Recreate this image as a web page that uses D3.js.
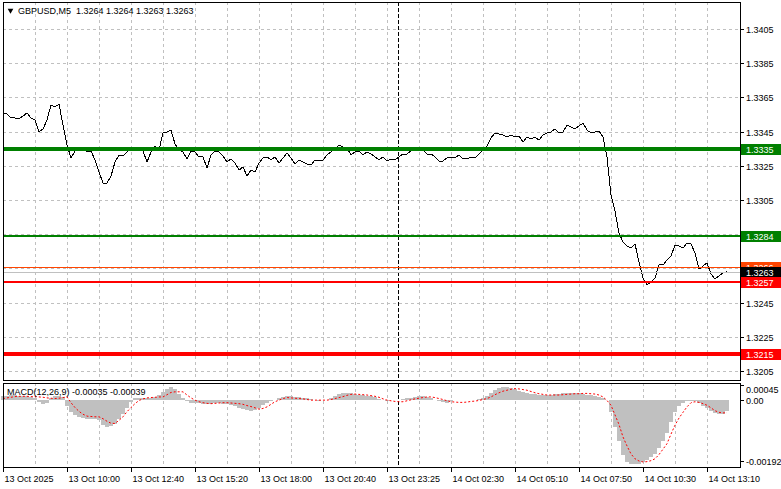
<!DOCTYPE html>
<html lang="en">
<head>
<meta charset="utf-8">
<title>GBPUSD,M5</title>
<script src="https://cdn.jsdelivr.net/npm/d3@7/dist/d3.min.js"></script>
<style>
  body { margin: 0; background: #fff; overflow: hidden; }
  svg { display: block; }
  text { font-family: "Liberation Sans", Arial, sans-serif; font-size: 9px; fill: #000; white-space: pre; }
</style>
</head>
<body>
<script>
// one sample every 2 M5 bars
var step = 2;
var totalBars = 368;

var symbol = "GBPUSD,M5";
var ohlc = [1.3264, 1.3264, 1.3263, 1.3263];

var timeLabels = ["13 Oct 2025", "13 Oct 10:00", "13 Oct 12:40", "13 Oct 15:20", "13 Oct 18:00", "13 Oct 20:40",
                  "13 Oct 23:25", "14 Oct 02:30", "14 Oct 05:10", "14 Oct 07:50", "14 Oct 10:30", "14 Oct 13:10"];
var labelEvery = 32;   // bars between time labels
var gridEvery = 16;    // bars between vertical grid lines
var separatorBar = 197.5;

var priceTicks = [1.3405, 1.3385, 1.3365, 1.3345, 1.3325, 1.3305, 1.3285, 1.3265, 1.3245, 1.3225, 1.3205];

var closes = [
  1.33559, 1.33553, 1.33530, 1.33530, 1.33524, 1.33541, 1.33559, 1.33530, 1.33518, 1.33448,
  1.33465, 1.33518, 1.33606, 1.33594, 1.33611, 1.33489, 1.33372, 1.33296, 1.33337, 1.33360,
  1.33348, 1.33331, 1.33337, 1.33284, 1.33214, 1.33149, 1.33149, 1.33190, 1.33272, 1.33313,
  1.33307, 1.33331, 1.33348, 1.33337, 1.33342, 1.33337, 1.33272, 1.33331, 1.33366, 1.33342,
  1.33442, 1.33448, 1.33459, 1.33378, 1.33342, 1.33331, 1.33290, 1.33337, 1.33331, 1.33302,
  1.33302, 1.33237, 1.33313, 1.33337, 1.33331, 1.33307, 1.33272, 1.33290, 1.33266, 1.33225,
  1.33243, 1.33190, 1.33225, 1.33214, 1.33266, 1.33296, 1.33302, 1.33284, 1.33302, 1.33266,
  1.33296, 1.33325, 1.33296, 1.33261, 1.33284, 1.33272, 1.33261, 1.33255, 1.33284, 1.33278,
  1.33284, 1.33313, 1.33331, 1.33348, 1.33372, 1.33360, 1.33354, 1.33313, 1.33331, 1.33337,
  1.33313, 1.33331, 1.33319, 1.33302, 1.33284, 1.33302, 1.33278, 1.33290, 1.33284, 1.33302,
  1.33319, 1.33319, 1.33337, 1.33342, 1.33354, 1.33342, 1.33319, 1.33319, 1.33302, 1.33278,
  1.33278, 1.33296, 1.33302, 1.33296, 1.33313, 1.33290, 1.33290, 1.33302, 1.33296, 1.33319,
  1.33342, 1.33366, 1.33413, 1.33442, 1.33436, 1.33430, 1.33418, 1.33430, 1.33418, 1.33424,
  1.33389, 1.33418, 1.33407, 1.33418, 1.33401, 1.33430, 1.33442, 1.33448, 1.33465, 1.33442,
  1.33448, 1.33489, 1.33477, 1.33465, 1.33483, 1.33500, 1.33459, 1.33442, 1.33448, 1.33454,
  1.33418, 1.33302, 1.33079, 1.32986, 1.32857, 1.32804, 1.32781, 1.32769, 1.32793, 1.32687,
  1.32594, 1.32553, 1.32571, 1.32594, 1.32670, 1.32670, 1.32699, 1.32723, 1.32787, 1.32781,
  1.32769, 1.32799, 1.32793, 1.32740, 1.32646, 1.32664, 1.32682, 1.32617, 1.32588, 1.32606,
  1.32623, 1.32630
];

var macdParams = [12, 26, 9];
var macdNow = [-0.00035, -0.00039];
var macdTicks = [0.00045, 0, -0.00192];

var macdHist = [
  0.0001, 0.00012, 0.00013, 0.00013, 0.00012, 0.00012, 0.0001, 0.00008, 0.00005, -0.00008,
  -0.00015, -0.00012, 0.00005, 0.0001, 0.0001, 0.00008, -0.0002, -0.00038, -0.00048, -0.00054,
  -0.00058, -0.0006, -0.0006, -0.00062, -0.00065, -0.0008, -0.00085, -0.00082, -0.00075, -0.00062,
  -0.00044, -0.00028, -0.00008, 0.00004, 0.00006, 0.00006, 0.00006, 0.00006, 0.00008, 0.00014,
  0.00022, 0.00034, 0.00038, 0.00032, 0.00016, 0.00004, -0.00006, -0.0001, -0.00012, -0.00012,
  -0.00014, -0.00015, -0.00013, -0.0001, -0.00011, -0.00013, -0.00015, -0.00017, -0.00021, -0.00026,
  -0.00031, -0.00034, -0.00035, -0.00032, -0.00028, -0.00018, -0.00012, -0.00006, -0.00002, 0.00004,
  0.00007, 0.0001, 0.0001, 0.00009, 0.00008, 0.00006, 0.00004, 0.00001, -0.00002, -0.00004,
  -0.00003, 0, 0.00005, 0.00012, 0.00017, 0.00021, 0.0002, 0.00019, 0.00017, 0.00015,
  0.00014, 0.00012, 0.0001, 0.00007, 0.00002, -0.00002, -0.00004, -0.00003, -0.00002, 0,
  0.00002, 0.00004, 0.00006, 0.00008, 0.0001, 0.0001, 0.00008, 0.00004, 0, -0.00004,
  -0.00008, -0.0001, -0.00006, -0.00003, -0.00002, -0.00002, -0.00002, -0.00002, -0.00001, 0.00002,
  0.00006, 0.00012, 0.0002, 0.00031, 0.00037, 0.0004, 0.00038, 0.00035, 0.00032, 0.00027,
  0.00024, 0.0002, 0.00018, 0.00017, 0.00015, 0.00014, 0.00014, 0.00015, 0.00016, 0.00018,
  0.00019, 0.0002, 0.0002, 0.00021, 0.0002, 0.00018, 0.00015, 0.00013, 0.00011, 0.00008,
  0.00005, 0, -0.0004, -0.00085, -0.00128, -0.00174, -0.00195, -0.002, -0.00202, -0.002,
  -0.00196, -0.0019, -0.0018, -0.0017, -0.00152, -0.0013, -0.00106, -0.0007, -0.0004, -0.0002,
  -0.0001, -0.00006, -0.00004, -0.00005, -0.0001, -0.0002, -0.00028, -0.00035, -0.00041, -0.00044,
  -0.00044, -0.00035
];

var macdSignal = [
  0.00003, 0.00005, 0.00007, 0.00009, 0.0001, 0.0001, 0.0001, 0.00009, 0.00009, 0.00008,
  0.00007, 0.00005, 0.00004, 0.00003, 0.00004, 0.00006, 0.00008, -0.0001, -0.00025, -0.00037,
  -0.00046, -0.00052, -0.00053, -0.00054, -0.00054, -0.0006, -0.00068, -0.00074, -0.00075, -0.00065,
  -0.00054, -0.00038, -0.00025, -0.00013, -0.00003, 0.00002, 0.00005, 0.00006, 0.00007, 0.00008,
  0.00008, 0.00015, 0.00022, 0.00024, 0.00024, 0.00024, 0.00014, 0.00005, -0.00002, -0.00007,
  -0.0001, -0.00012, -0.00013, -0.00012, -0.00011, -0.0001, -0.0001, -0.00011, -0.00012, -0.00013,
  -0.00015, -0.00019, -0.00022, -0.00026, -0.0003, -0.00028, -0.00023, -0.00015, -0.00007, -0.00002,
  0.00003, 0.00006, 0.00005, 0.00004, 0.00003, 0.00002, 0, -0.00002, -0.00002, -0.00002,
  -0.00002, -0.00002, 0, 0.00003, 0.00006, 0.00009, 0.00013, 0.00016, 0.00017, 0.00016,
  0.00015, 0.00014, 0.00012, 0.0001, 0.00007, 0.00002, -0.00002, -0.00004, -0.00006, -0.00007,
  -0.00007, -0.00004, -0.00001, 0.00002, 0.00004, 0.00006, 0.00008, 0.00008, 0.00006, 0.00003,
  0, -0.00004, -0.00007, -0.00008, -0.00009, -0.00009, -0.00008, -0.00006, -0.00005, -0.00003,
  0, 0.00003, 0.00008, 0.00015, 0.00021, 0.00026, 0.00029, 0.00032, 0.00034, 0.00033,
  0.00031, 0.00029, 0.00025, 0.00021, 0.00018, 0.00016, 0.00014, 0.00014, 0.00014, 0.00014,
  0.00015, 0.00016, 0.00017, 0.00018, 0.00018, 0.00019, 0.00019, 0.00018, 0.00017, 0.00014,
  0.00008, -0.00003, -0.00018, -0.00048, -0.00078, -0.00117, -0.00145, -0.0017, -0.00185, -0.00192,
  -0.00195, -0.00194, -0.00191, -0.00185, -0.00172, -0.00155, -0.00138, -0.00108, -0.0008, -0.00058,
  -0.0004, -0.00023, -0.0001, -0.00007, -0.00009, -0.00013, -0.00018, -0.00026, -0.00035, -0.0004,
  -0.00042, -0.00041
];

// horizontal levels drawn on the chart
var levelValues = [1.3335, 1.3284, 1.3257, 1.3215];
var askPrice = 1.3266;
var bidPrice = 1.3263;

// ---- layout ----
var width = 781, height = 489;
var left = 3, right = 740;
var mainTop = 2, mainBottom = 380;
var subTop = 383, subBottom = 467;
var levelStyle = [
  {color: "#008000", w: 4},
  {color: "#008000", w: 2},
  {color: "#ff0000", w: 2},
  {color: "#ff0000", w: 4}
];

var x = d3.scaleLinear().domain([0, totalBars]).range([left, left + totalBars * 2]);
var y = d3.scaleLinear().domain([1.3205, 1.3405]).range([371, 29]);
var ym = d3.scaleLinear().domain([-0.00192, 0]).range([461, 399.5]);

var fmt4 = d3.format(".4f");
function fmt5(v) { return d3.format(".5f")(v).replace("\u2212", "-"); }

var svg = d3.select("body").append("svg")
    .attr("width", width)
    .attr("height", height);

svg.append("rect").attr("width", width).attr("height", height).attr("fill", "#fff");

var grid = svg.append("g")
    .attr("stroke", "#c0c0c0")
    .attr("stroke-dasharray", "3,3")
    .attr("shape-rendering", "crispEdges");

// vertical grid in both panels
var gridBars = d3.range(gridEvery, totalBars, gridEvery);
gridBars.forEach(function(b) {
    var gx = Math.round(x(b)) + 0.5;
    grid.append("line").attr("x1", gx).attr("x2", gx).attr("y1", mainTop).attr("y2", mainBottom);
    grid.append("line").attr("x1", gx).attr("x2", gx).attr("y1", subTop).attr("y2", subBottom);
});
// horizontal grid
priceTicks.forEach(function(p) {
    var gy = Math.round(y(p)) + 0.5;
    grid.append("line").attr("x1", left).attr("x2", right).attr("y1", gy).attr("y2", gy);
});

// day separator
var sx = Math.round(x(separatorBar)) + 0.5;
[[mainTop, mainBottom], [subTop, subBottom]].forEach(function(r) {
    svg.append("line")
        .attr("x1", sx).attr("x2", sx).attr("y1", r[0]).attr("y2", r[1])
        .attr("stroke", "#000").attr("stroke-dasharray", "4,2")
        .attr("shape-rendering", "crispEdges");
});

// price line
var line = d3.line()
    .x(function(d, i) { return x(i * step); })
    .y(function(d) { return y(d); });

svg.append("path")
    .datum(closes)
    .attr("fill", "none")
    .attr("stroke", "#000")
    .attr("stroke-width", 1)
    .attr("shape-rendering", "crispEdges")
    .attr("d", line);

// ask / bid lines
svg.append("line")
    .attr("x1", left).attr("x2", right)
    .attr("y1", Math.round(y(askPrice)) + 0.5).attr("y2", Math.round(y(askPrice)) + 0.5)
    .attr("stroke", "#ff4500").attr("shape-rendering", "crispEdges");
svg.append("line")
    .attr("x1", left).attr("x2", right)
    .attr("y1", Math.round(y(bidPrice)) + 0.5).attr("y2", Math.round(y(bidPrice)) + 0.5)
    .attr("stroke", "#c0c0c0").attr("shape-rendering", "crispEdges");

// level lines
levelValues.forEach(function(v, i) {
    svg.append("line")
        .attr("x1", left).attr("x2", right)
        .attr("y1", y(v)).attr("y2", y(v))
        .attr("stroke", levelStyle[i].color)
        .attr("stroke-width", levelStyle[i].w)
        .attr("shape-rendering", "crispEdges");
});

// MACD histogram
var zeroY = ym(0);
svg.append("g")
    .attr("fill", "#c0c0c0")
    .attr("shape-rendering", "crispEdges")
    .selectAll("rect")
    .data(macdHist)
    .enter().append("rect")
    .attr("x", function(d, i) { return x(i * step) - 2; })
    .attr("width", 4)
    .attr("y", function(d) { return Math.min(ym(d), zeroY); })
    .attr("height", function(d) { return Math.abs(ym(d) - zeroY); });

// MACD signal
var sigLine = d3.line()
    .x(function(d, i) { return x(i * step); })
    .y(function(d) { return ym(d); });

svg.append("path")
    .datum(macdSignal)
    .attr("fill", "none")
    .attr("stroke", "#ff0000")
    .attr("stroke-width", 1)
    .attr("stroke-dasharray", "2,2")
    .attr("d", sigLine);

// panel frames
[[mainTop, mainBottom], [subTop, subBottom]].forEach(function(r) {
    svg.append("rect")
        .attr("x", left + 0.5).attr("y", r[0] + 0.5)
        .attr("width", right - left).attr("height", r[1] - r[0])
        .attr("fill", "none").attr("stroke", "#000")
        .attr("shape-rendering", "crispEdges");
});

// right price axis (labels under a price tag are hidden, as in the terminal)
var tagValues = levelValues.concat([askPrice, bidPrice]);
priceTicks.forEach(function(p) {
    var ty = Math.round(y(p)) + 0.5;
    svg.append("line").attr("x1", right).attr("x2", right + 4).attr("y1", ty).attr("y2", ty)
        .attr("stroke", "#000").attr("shape-rendering", "crispEdges");
    var covered = tagValues.some(function(v) { return Math.abs(y(v) - y(p)) < 9; });
    if (!covered) {
        svg.append("text").attr("x", right + 6).attr("y", ty + 3.5).text(fmt4(p));
    }
});

// price tags on the axis
function tag(v, bg) {
    var ty = Math.round(y(v));
    svg.append("rect")
        .attr("x", right + 1).attr("y", ty - 5)
        .attr("width", width - right - 1).attr("height", 11)
        .attr("fill", bg).attr("shape-rendering", "crispEdges");
    svg.append("text").attr("x", right + 6).attr("y", ty + 3.5)
        .style("fill", "#fff").text(fmt4(v));
}
tag(levelValues[0], "#008000");
tag(levelValues[1], "#008000");
tag(askPrice, "#ff4500");
tag(bidPrice, "#000");
tag(levelValues[2], "#ff0000");
tag(levelValues[3], "#ff0000");

// MACD axis
macdTicks.forEach(function(v) {
    var ty = Math.round(ym(v)) + 0.5;
    var ly = Math.max(ty, subTop + 6);
    svg.append("line").attr("x1", right).attr("x2", right + 4).attr("y1", ty).attr("y2", ty)
        .attr("stroke", "#000").attr("shape-rendering", "crispEdges");
    svg.append("text").attr("x", right + 6).attr("y", ly + 3.5)
        .text(v === 0 ? "0.00" : fmt5(v));
});

// time axis
timeLabels.forEach(function(t, i) {
    var tx = Math.round(x(i * labelEvery)) + 0.5;
    svg.append("line").attr("x1", tx).attr("x2", tx).attr("y1", subBottom).attr("y2", subBottom + 5)
        .attr("stroke", "#000").attr("shape-rendering", "crispEdges");
    svg.append("text").attr("x", tx + 1).attr("y", subBottom + 15).text(t);
});

// header texts
svg.append("path")
    .attr("d", d3.symbol().type(d3.symbolTriangle).size(14)())
    .attr("transform", "translate(10.5,10.5) rotate(180)")
    .attr("fill", "#000");
svg.append("text").attr("x", 18).attr("y", 14)
    .text(symbol + "  " + ohlc.map(fmt4).join(" "));

svg.append("text").attr("x", 7).attr("y", 395)
    .text("MACD(" + macdParams.join(",") + ") " + macdNow.map(fmt5).join(" "));
</script>
</body>
</html>
